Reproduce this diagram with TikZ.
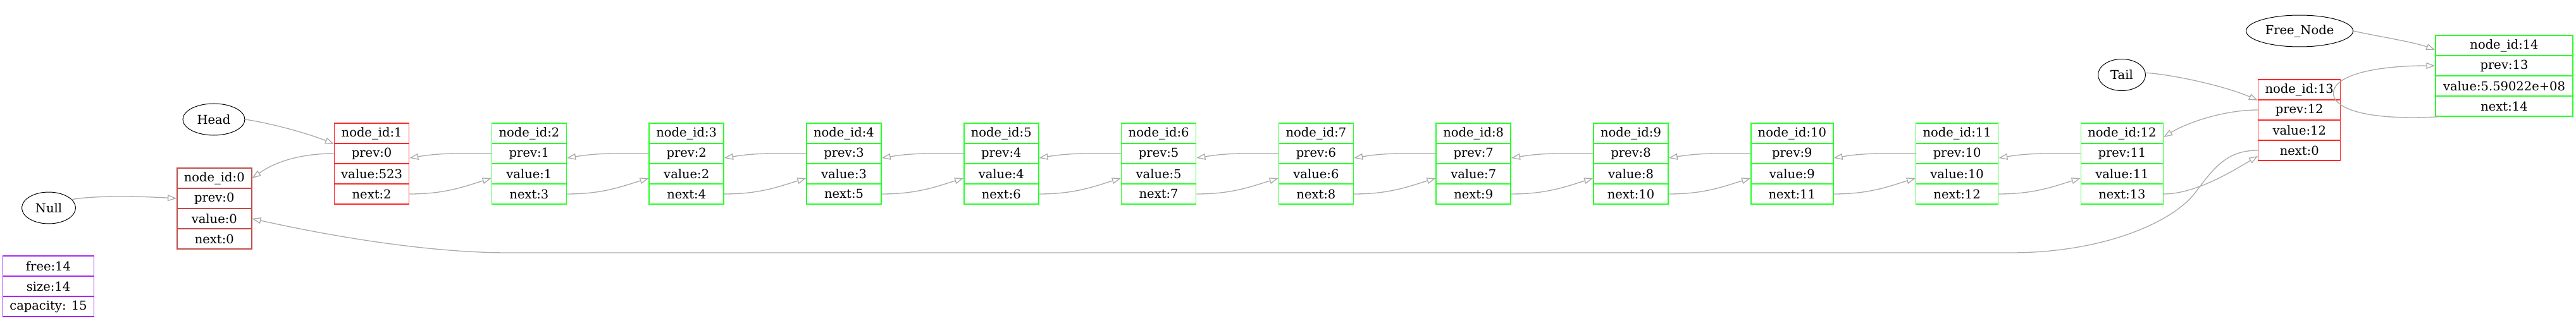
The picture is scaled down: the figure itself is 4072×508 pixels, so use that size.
\documentclass[tikz,border=0pt]{standalone}
\usepackage{fontspec}
\setmainfont{DejaVu Serif}
\usetikzlibrary{arrows.meta, shapes.geometric, positioning}
\usepackage{xcolor}
\definecolor{edgegray}{RGB}{170,170,170}
\definecolor{cellgreen}{RGB}{40,255,40}
\definecolor{cellred}{RGB}{255,40,40}
\definecolor{zerored}{RGB}{192,78,76}
\definecolor{listpurple}{RGB}{165,40,245}

\begin{document}
\begin{tikzpicture}[x=1pt, y=-1pt, font=\fontsize{19.5}{22}\selectfont,
  >={Triangle[open, length=14pt, width=10pt]},
  field/.style={draw, line width=1.5pt, inner sep=0pt, minimum height=32pt},
  tagnode/.style={draw, ellipse, line width=1pt, inner sep=0pt, minimum height=50pt},
  linkedge/.style={->, draw=edgegray, line width=1.3pt}]
  \useasboundingbox (0,0) rectangle (4072,508);

  % Records: name/x centre/top/width/colour/id/prev/value/next
  \foreach \nm/\xc/\yt/\w/\col/\id/\pv/\vl/\nx in {%
    n0/338.8/266/118/zerored/0/0/0/0,
    n1/587.6/195/118/cellred/1/0/523/2,
    n2/836.4/195/118/cellgreen/2/1/1/3,
    n3/1085.2/195/118/cellgreen/3/2/2/4,
    n4/1334.0/195/118/cellgreen/4/3/3/5,
    n5/1582.8/195/118/cellgreen/5/4/4/6,
    n6/1831.6/195/118/cellgreen/6/5/5/7,
    n7/2080.4/195/118/cellgreen/7/6/6/8,
    n8/2329.2/195/118/cellgreen/8/7/7/9,
    n9/2578.0/195/118/cellgreen/9/8/8/10,
    n10/2832.8/195/130/cellgreen/10/9/9/11,
    n11/3093.6/195/130/cellgreen/11/10/10/12,
    n12/3354.4/195/130/cellgreen/12/11/11/13,
    n13/3634.7/126/130/cellred/13/12/12/0,
    n14/3958.5/56/217/cellgreen/14/13/5.59022e+08/14} {
    \node[field, draw=\col, minimum width=\w*1pt] (\nm-id)   at (\xc,\yt+16)  {node\_id:\id};
    \node[field, draw=\col, minimum width=\w*1pt] (\nm-prev) at (\xc,\yt+48)  {prev:\pv};
    \node[field, draw=\col, minimum width=\w*1pt] (\nm-val)  at (\xc,\yt+80)  {value:\vl};
    \node[field, draw=\col, minimum width=\w*1pt] (\nm-next) at (\xc,\yt+112) {next:\nx};
  }

  % List header
  \node[field, draw=listpurple, minimum width=144pt] (ls-free) at (76.5,421) {free:14};
  \node[field, draw=listpurple, minimum width=144pt] (ls-size) at (76.5,453) {size:14};
  \node[field, draw=listpurple, minimum width=144pt] (ls-cap)  at (76.5,485) {capacity: 15};

  % Name tags
  \node[tagnode, minimum width=85pt]  (null)  at (77,329)     {Null};
  \node[tagnode, minimum width=98pt]  (head)  at (338,189)    {Head};
  \node[tagnode, minimum width=75pt]  (tail)  at (3354,118.5) {Tail};
  \node[tagnode, minimum width=169pt] (fnode) at (3635,49)    {Free\_Node};

  % Tag pointers
  \draw[linkedge] (null.20) .. controls +(40,-7) and +(-50,-3) .. (n0-prev.west);
  \draw[linkedge] (head.east) .. controls +(40,6) and +(-45,-18) .. (n1-id.south west);
  \draw[linkedge] (tail.5) .. controls +(45,3) and +(-50,-22) .. (n13-id.south west);
  \draw[linkedge] (fnode.east) .. controls +(35,8) and +(-35,-13) .. ([yshift=-7pt]n14-id.west);

  % prev links
  \foreach \a/\b in {n2/n1, n3/n2, n4/n3, n5/n4, n6/n5, n7/n6, n8/n7, n9/n8,
                     n10/n9, n11/n10, n12/n11} {
    \draw[linkedge] (\a-prev.west) .. controls +(-60,0) and +(50,-8) .. ([yshift=-7pt]\b-prev.east);
  }
  \draw[linkedge] (n1-prev.west) .. controls +(-55,0) and +(35,-25) .. (n0-id.east);
  \draw[linkedge] (n13-prev.west) .. controls +(-55,0) and +(35,-22) .. ([yshift=-6pt]n12-id.east);

  % next links
  \foreach \a/\b in {n1/n2, n2/n3, n3/n4, n4/n5, n5/n6, n6/n7, n7/n8, n8/n9,
                     n9/n10, n10/n11, n11/n12} {
    \draw[linkedge] (\a-next.east) .. controls +(55,0) and +(-45,14) .. ([yshift=-7pt]\b-val.west);
  }
  \draw[linkedge] (n12-next.east) .. controls +(50,0) and +(-40,24) .. ([yshift=-9pt]n13-next.west);

  % tail back to node 0
  \draw[linkedge] (n13-next.west) .. controls (3520,238) and (3500,265) .. (3470,305)
    .. controls (3437,349) and (3330,400) .. (3178,400) -- (804,400)
    .. controls (650,400) and (470,362) .. (n0-val.east);

  % free node loop
  \draw[linkedge] ([xshift=6pt]n14-next.south west) .. controls (3720,192) and (3683,165) .. (3689,143)
    .. controls (3696,117) and (3760,104) .. (n14-prev.west);
\end{tikzpicture}
\end{document}
